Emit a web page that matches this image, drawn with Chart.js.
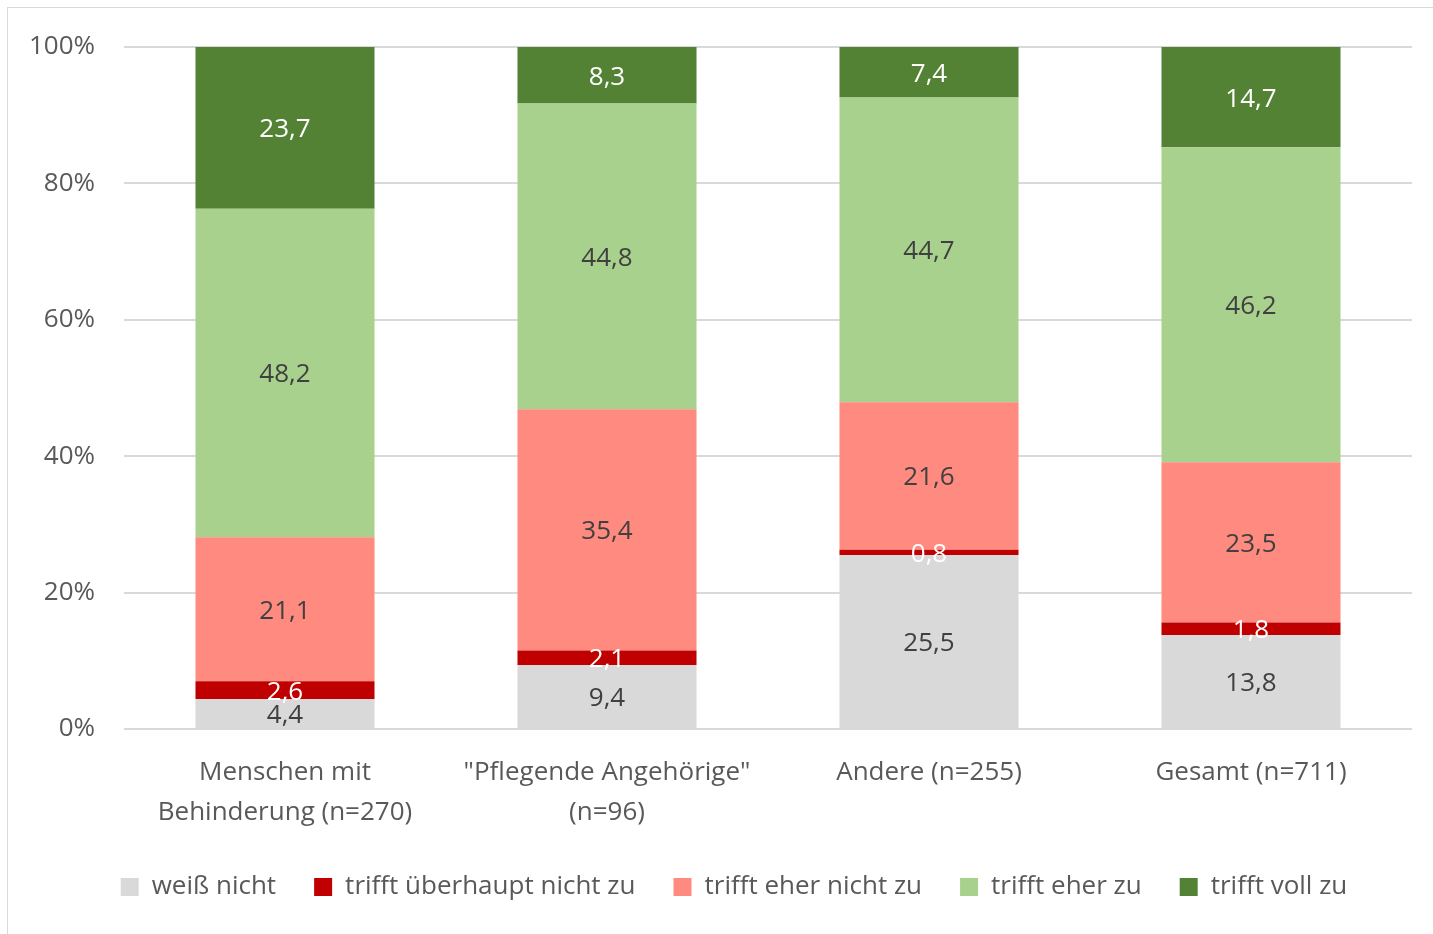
<!DOCTYPE html>
<html>
<head>
<meta charset="utf-8">
<script src="https://cdn.jsdelivr.net/npm/chart.js@4.4.1/dist/chart.umd.min.js"></script>
<style>
  html, body { margin: 0; padding: 0; background: #fff; }
  #wrap { position: relative; width: 1433px; height: 934px; }
  #frame { position: absolute; left: 7px; top: 7px; right: 0; bottom: 0; border-left: 1px solid #d9d9d9; border-top: 1px solid #d9d9d9; pointer-events: none; }
  canvas { position: absolute; left: 0; top: 0; }
</style>
</head>
<body>
<div id="wrap">
  <canvas id="c" width="1433" height="934"></canvas>
  <div id="frame"></div>
</div>
<script>
const categories = [
  ["Menschen mit", "Behinderung (n=270)"],
  ["\"Pflegende Angehörige\"", "(n=96)"],
  "Andere (n=255)",
  "Gesamt (n=711)"
];
const seriesNames = ["weiß nicht", "trifft überhaupt nicht zu", "trifft eher nicht zu", "trifft eher zu", "trifft voll zu"];
const weissNicht = [4.4, 9.4, 25.5, 13.8];
const ueberhauptNicht = [2.6, 2.1, 0.8, 1.8];
const eherNicht = [21.1, 35.4, 21.6, 23.5];
const eherZu = [48.2, 44.8, 44.7, 46.2];
const vollZu = [23.7, 8.3, 7.4, 14.7];
const yTicks = [0, 20, 40, 60, 80, 100];

const colors = ["#D9D9D9", "#C00000", "#FF8A80", "#A9D18E", "#548235"];
const labelColors = ["#404040", "#FFFFFF", "#404040", "#404040", "#FFFFFF"];
const seriesValues = [weissNicht, ueberhauptNicht, eherNicht, eherZu, vollZu];

const FONT = "'Open Sans', 'DejaVu Sans', sans-serif";

const valueLabels = {
  id: 'valueLabels',
  afterDatasetsDraw(chart) {
    const ctx = chart.ctx;
    ctx.save();
    ctx.font = "26px " + FONT;
    ctx.textAlign = 'center';
    ctx.textBaseline = 'middle';
    chart.data.datasets.forEach((ds, di) => {
      const meta = chart.getDatasetMeta(di);
      meta.data.forEach((el, i) => {
        const v = ds.data[i];
        const cy = (el.y + el.base) / 2 + 2;
        ctx.fillStyle = labelColors[di];
        ctx.fillText(v.toFixed(1).replace('.', ','), el.x, cy);
      });
    });
    ctx.restore();
  }
};

const legendShift = {
  id: 'legendShift',
  afterLayout(chart) {
    const lg = chart.legend;
    if (lg) { lg.left += 23; lg.right += 23; }
  }
};

new Chart(document.getElementById('c'), {
  type: 'bar',
  data: {
    labels: categories,
    datasets: seriesNames.map((name, i) => ({
      label: name,
      data: seriesValues[i],
      backgroundColor: colors[i],
      borderWidth: 0,
      categoryPercentage: 1,
      barPercentage: 0.556
    }))
  },
  options: {
    responsive: false,
    animation: false,
    devicePixelRatio: 1,
    layout: { padding: { left: 10, right: 21, top: 47, bottom: 24 } },
    scales: {
      x: {
        stacked: true,
        grid: { display: false, drawTicks: false },
        border: { display: false },
        ticks: {
          color: '#595959',
          font: { family: FONT, size: 26, lineHeight: 1.54 },
          padding: 24,
          maxRotation: 0,
          autoSkip: false
        },
        afterFit(s) { s.height = 107; }
      },
      y: {
        stacked: true,
        min: 0,
        max: 100,
        afterBuildTicks(s) { s.ticks = yTicks.map(v => ({ value: v })); },
        grid: { color: '#d9d9d9', lineWidth: 2, drawTicks: false },
        border: { display: false },
        ticks: {
          color: '#595959',
          font: { family: FONT, size: 26 },
          padding: 29,
          callback: v => v + '%'
        },
        afterFit(s) { s.width = 114; }
      }
    },
    plugins: {
      legend: {
        position: 'bottom',
        labels: {
          color: '#595959',
          font: { family: FONT, size: 26 },
          boxWidth: 18,
          boxHeight: 18,
          padding: 38
        }
      },
      tooltip: { enabled: false }
    }
  },
  plugins: [valueLabels, legendShift]
});
</script>
</body>
</html>
